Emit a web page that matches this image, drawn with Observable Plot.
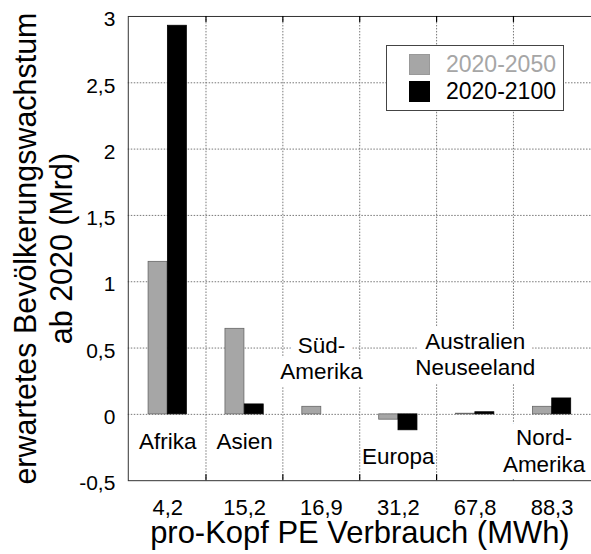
<!DOCTYPE html>
<html>
<head>
<meta charset="utf-8">
<script src="https://cdn.jsdelivr.net/npm/d3@7"></script>
<script src="https://cdn.jsdelivr.net/npm/@observablehq/plot@0.6"></script>
<style>
  html, body { margin: 0; padding: 0; background: #fff; overflow: hidden; }
  #wrap { position: relative; width: 591px; height: 554px; overflow: hidden; font-family: "Liberation Sans", Arial, sans-serif; }
  #legend { position: absolute; left: 386px; top: 45px; width: 176px; height: 64px; background: #fff; border: 1px solid #444; }
  .li { position: absolute; left: 22px; height: 21px; display: flex; align-items: center; font-size: 23px; }
  .sw { width: 21px; height: 21px; margin-right: 16px; box-sizing: border-box; }
</style>
</head>
<body>
<div id="wrap"></div>
<script>
// ---- data ----
const categories = ["4,2", "15,2", "16,9", "31,2", "67,8", "88,3"]; // pro-Kopf PE Verbrauch (MWh)
const regions = ["Afrika", "Asien", "Süd-\nAmerika", "Europa", "Australien\nNeuseeland", "Nord-\nAmerika"];
const seriesNames = ["2020-2050", "2020-2100"];
const growth2050 = [1.15, 0.645, 0.057, -0.04, 0.005, 0.057];
const growth2100 = [2.93, 0.075, 0.0, -0.12, 0.016, 0.12];
const yTicks = [-0.5, 0, 0.5, 1, 1.5, 2, 2.5, 3];
const gridY = [0, 0.5, 1, 1.5, 2, 2.5];
// label anchor (in data units of y) for each region annotation
const regionLabelY = [-0.2, -0.2, 0.43, -0.31, 0.455, -0.27];
const boxedRegions = ["Süd-\nAmerika", "Australien\nNeuseeland"];
const edgeRegions = ["Nord-\nAmerika"];

const colors = ["#a6a6a6", "#000000"];

const rows = [];
categories.forEach((c, i) => {
  rows.push({cat: c, series: seriesNames[0], value: growth2050[i]});
  rows.push({cat: c, series: seriesNames[1], value: growth2100[i]});
});
const labels = categories.map((c, i) => ({cat: c, text: regions[i], y: regionLabelY[i]}));

const W = 592, H = 554, mL = 128, mR = 0, mT = 16, mB = 73;
const bw = (W - mL - mR) / categories.length;
const font = "Liberation Sans, Arial, sans-serif";
const fmt = d => String(d).replace(".", ",");
const halo = {stroke: "#fff", strokeWidth: 16, strokeLinejoin: "round", paintOrder: "stroke"};
const labelStyle = {x: "cat", y: "y", text: "text", fontSize: 22.5, fill: "#000", lineAnchor: "middle", lineHeight: 1.16};

const chart = Plot.plot({
  width: W,
  height: H,
  marginLeft: mL,
  marginRight: mR,
  marginTop: mT,
  marginBottom: mB,
  style: {fontFamily: font, background: "#fff", color: "#000", overflow: "visible"},
  x: {type: "band", domain: categories, padding: 0, label: null},
  y: {domain: [-0.5, 3], label: null},
  marks: [
    // horizontal grid
    Plot.ruleY(gridY, {stroke: "#777", strokeWidth: 1, strokeDasharray: "1.5,1.5"}),
    // vertical grid at category boundaries
    Plot.ruleX(categories.slice(1), {x: d => d, dx: -bw / 2, stroke: "#777", strokeWidth: 1, strokeDasharray: "1.5,1.5"}),
    // bars
    Plot.barY(rows.filter(d => d.series === seriesNames[0]), {
      x: "cat", y: "value", fill: colors[0], stroke: "#666", strokeWidth: 0.8,
      insetLeft: bw / 4, insetRight: bw / 2
    }),
    Plot.barY(rows.filter(d => d.series === seriesNames[1]), {
      x: "cat", y: "value", fill: colors[1], stroke: "#000", strokeWidth: 0.8,
      insetLeft: bw / 2, insetRight: bw / 4
    }),
    // frame
    Plot.frame({stroke: "#333", strokeWidth: 1}),
    // boundary ticks on top and bottom
    Plot.ruleX(categories.slice(1), {x: d => d, dx: -bw / 2, y1: 3, y2: 2.955, stroke: "#000", strokeWidth: 1.2}),
    Plot.ruleX(categories.slice(1), {x: d => d, dx: -bw / 2, y1: -0.5, y2: -0.455, stroke: "#000", strokeWidth: 1.2}),
    // region labels
    Plot.text(labels.filter(d => !boxedRegions.includes(d.text) && !edgeRegions.includes(d.text)), labelStyle),
    Plot.text(labels.filter(d => boxedRegions.includes(d.text)), {...labelStyle, ...halo}),
    Plot.text(labels.filter(d => edgeRegions.includes(d.text)), {...labelStyle, ...halo, dx: -8}),
    // axes
    Plot.axisY(yTicks, {tickSize: 0, tickPadding: 13, tickFormat: fmt, fontSize: 21, dy: 3, label: null}),
    Plot.axisX({tickSize: 0, tickPadding: 19, fontSize: 22, label: null}),
    // axis titles
    Plot.text(["pro-Kopf PE Verbrauch (MWh)"], {frameAnchor: "bottom", lineAnchor: "bottom", dy: 62, fontSize: 31, fill: "#000"}),
    Plot.text(["erwartetes Bevölkerungswachstum\nab 2020 (Mrd)"], {
      frameAnchor: "left", textAnchor: "middle", rotate: -90, lineAnchor: "bottom", lineHeight: 1.21, dx: -56, fontSize: 30.5, fill: "#000"
    })
  ]
});

const wrap = document.getElementById("wrap");
wrap.appendChild(chart);

// legend
const legend = document.createElement("div");
legend.id = "legend";
seriesNames.forEach((s, i) => {
  const item = document.createElement("div");
  item.className = "li";
  item.style.top = (8 + i * 27) + "px";
  const sw = document.createElement("div");
  sw.className = "sw";
  sw.style.background = colors[i];
  sw.style.border = "1px solid " + (i === 0 ? "#999" : "#000");
  const t = document.createElement("span");
  t.textContent = s;
  t.style.color = i === 0 ? colors[0] : "#000";
  item.appendChild(sw);
  item.appendChild(t);
  legend.appendChild(item);
});
wrap.appendChild(legend);
</script>
</body>
</html>
